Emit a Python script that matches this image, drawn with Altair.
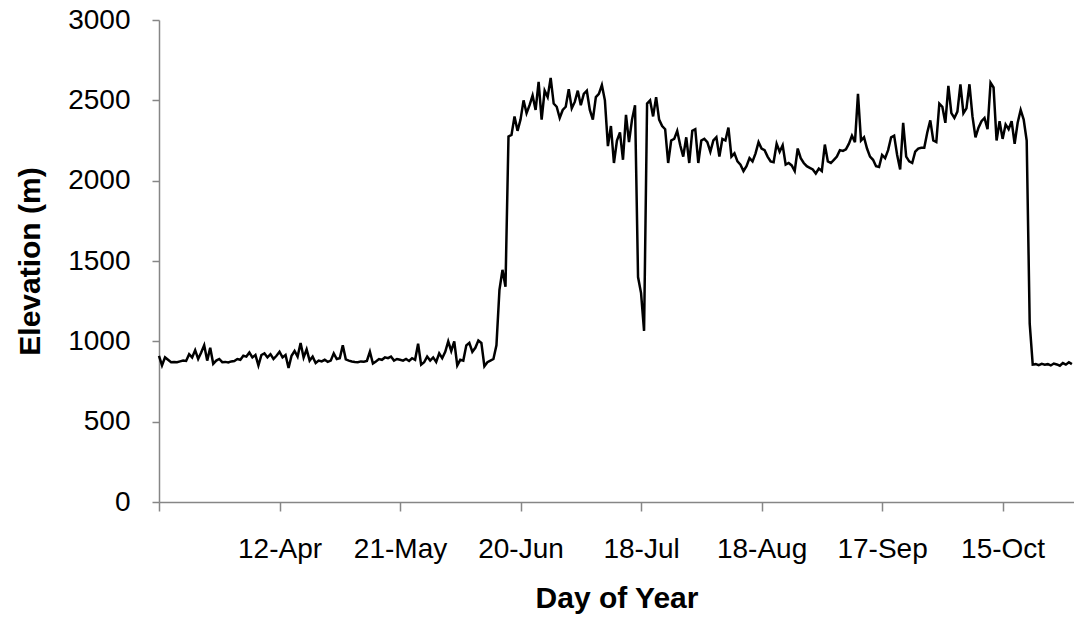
import json
import altair as alt
import pandas as pd

# Elevation readings (m), one per logging step, in time order
elev_apr_may = [
    910, 850, 900, 885, 870, 872, 870, 875, 880, 878,
    920, 900, 945, 890, 930, 975, 880, 960, 860, 880,
    890, 870, 872, 868, 875, 878, 890, 885, 910, 905,
    930, 900, 915, 850, 915, 925, 900, 920, 890, 910,
    935, 900, 915, 835, 910, 940, 905, 990, 900, 950,
    880, 905, 865, 880, 875, 885, 872, 880, 925, 890,
    895, 975, 888, 880, 875, 872, 870, 875, 873, 878,
    935, 862, 875, 890, 885, 900, 895, 905, 880, 890,
    885, 880, 890, 878, 895, 885, 985, 855, 870, 905,
    880, 900, 872, 925, 895, 935, 1000, 940, 1000, 850,
    885,
]
elev_jun_jul = [
    880, 975, 990, 935, 960, 1005, 990, 845, 870, 880,
    890, 975, 1320, 1445, 1340, 2275, 2285, 2400, 2310, 2380,
    2500, 2420, 2470, 2530, 2440, 2615, 2380, 2560, 2520, 2640,
    2480, 2460, 2390, 2440, 2460, 2570, 2450, 2490, 2560, 2470,
    2540, 2560, 2440, 2380, 2520, 2540, 2595, 2500, 2215, 2340,
    2110, 2250, 2300, 2130, 2410, 2240, 2380, 2470, 1400, 1300,
    1065, 2480, 2500, 2400, 2520, 2380, 2340, 2320, 2110, 2250,
    2260, 2310, 2220, 2150, 2270, 2110, 2310, 2320, 2110, 2250,
    2260, 2240, 2180, 2250, 2270, 2150, 2260, 2250, 2330, 2150,
    2170, 2120, 2100, 2060, 2090, 2140, 2120, 2170, 2240, 2200,
    2190,
]
elev_aug_oct = [
    2150, 2120, 2115, 2230, 2180, 2220, 2100, 2110, 2095, 2060,
    2200, 2140, 2110, 2090, 2080, 2070, 2045, 2075, 2060, 2225,
    2120, 2110, 2130, 2150, 2190, 2185, 2195, 2230, 2280, 2240,
    2540, 2250, 2270, 2200, 2150, 2130, 2090, 2085, 2160, 2140,
    2190, 2270, 2280, 2160, 2070, 2360, 2150, 2120, 2110, 2180,
    2200, 2205, 2205, 2300, 2375, 2250, 2240, 2480, 2460, 2360,
    2590, 2420, 2390, 2430, 2600, 2420, 2450, 2600, 2400, 2270,
    2330, 2370, 2390, 2320, 2610, 2580, 2250, 2370, 2260, 2350,
    2320, 2370, 2230, 2360, 2440, 2380, 2250, 1110, 855, 858,
    852, 860, 855, 858, 850, 862, 856, 848, 865, 855,
    870, 858,
]
elevation = elev_apr_may + elev_jun_jul + elev_aug_oct

# Category ticks every 40 steps; the first tick carries no label
tick_step = 40
tick_labels = ["", "12-Apr", "21-May", "20-Jun", "18-Jul", "18-Aug", "17-Sep", "15-Oct"]
tick_values = [i * tick_step for i in range(len(tick_labels))]
x_max = 303.7

df = pd.DataFrame({"step": list(range(len(elevation))), "elevation": elevation})

label_expr = json.dumps(tick_labels) + f"[round(datum.value / {tick_step})]"

font = "Liberation Sans"
axis_grey = "#868686"

chart = (
    alt.Chart(df)
    .mark_line(color="black", strokeWidth=2.5)
    .encode(
        x=alt.X(
            "step:Q",
            scale=alt.Scale(domain=[0, x_max], nice=False, zero=False),
            axis=alt.Axis(
                values=tick_values,
                labelExpr=label_expr,
                title="Day of Year",
                grid=False,
                domainColor=axis_grey,
                domainWidth=1.5,
                tickColor=axis_grey,
                tickWidth=1.5,
                tickSize=9,
                labelPadding=24,
                labelFont=font,
                labelFontSize=28,
                labelColor="black",
                labelFlush=False,
                labelOverlap=False,
                titleFont=font,
                titleFontSize=30,
                titleFontWeight="bold",
                titleColor="black",
                titleBaseline="middle",
                titleY=96,
            ),
        ),
        y=alt.Y(
            "elevation:Q",
            scale=alt.Scale(domain=[0, 3000], nice=False),
            axis=alt.Axis(
                values=[0, 500, 1000, 1500, 2000, 2500, 3000],
                format="d",
                title="Elevation (m)",
                grid=False,
                domainColor=axis_grey,
                domainWidth=1.5,
                tickColor=axis_grey,
                tickWidth=1.5,
                tickSize=7,
                labelPadding=22,
                labelFont=font,
                labelFontSize=28,
                labelColor="black",
                labelFlush=False,
                labelOverlap=False,
                titleFont=font,
                titleFontSize=30,
                titleFontWeight="bold",
                titleColor="black",
                titleBaseline="middle",
                titleAlign="center",
                titleAngle=270,
                titleX=-129,
                titleY=241,
            ),
        ),
    )
    .properties(
        width=915,
        height=482,
        autosize=alt.AutoSizeParams(type="none"),
        padding={"left": 159, "top": 20, "right": 0, "bottom": 124},
        background="white",
    )
    .configure_view(strokeWidth=0)
)

chart.save("out.html", embed_options={"renderer": "svg", "actions": False})
